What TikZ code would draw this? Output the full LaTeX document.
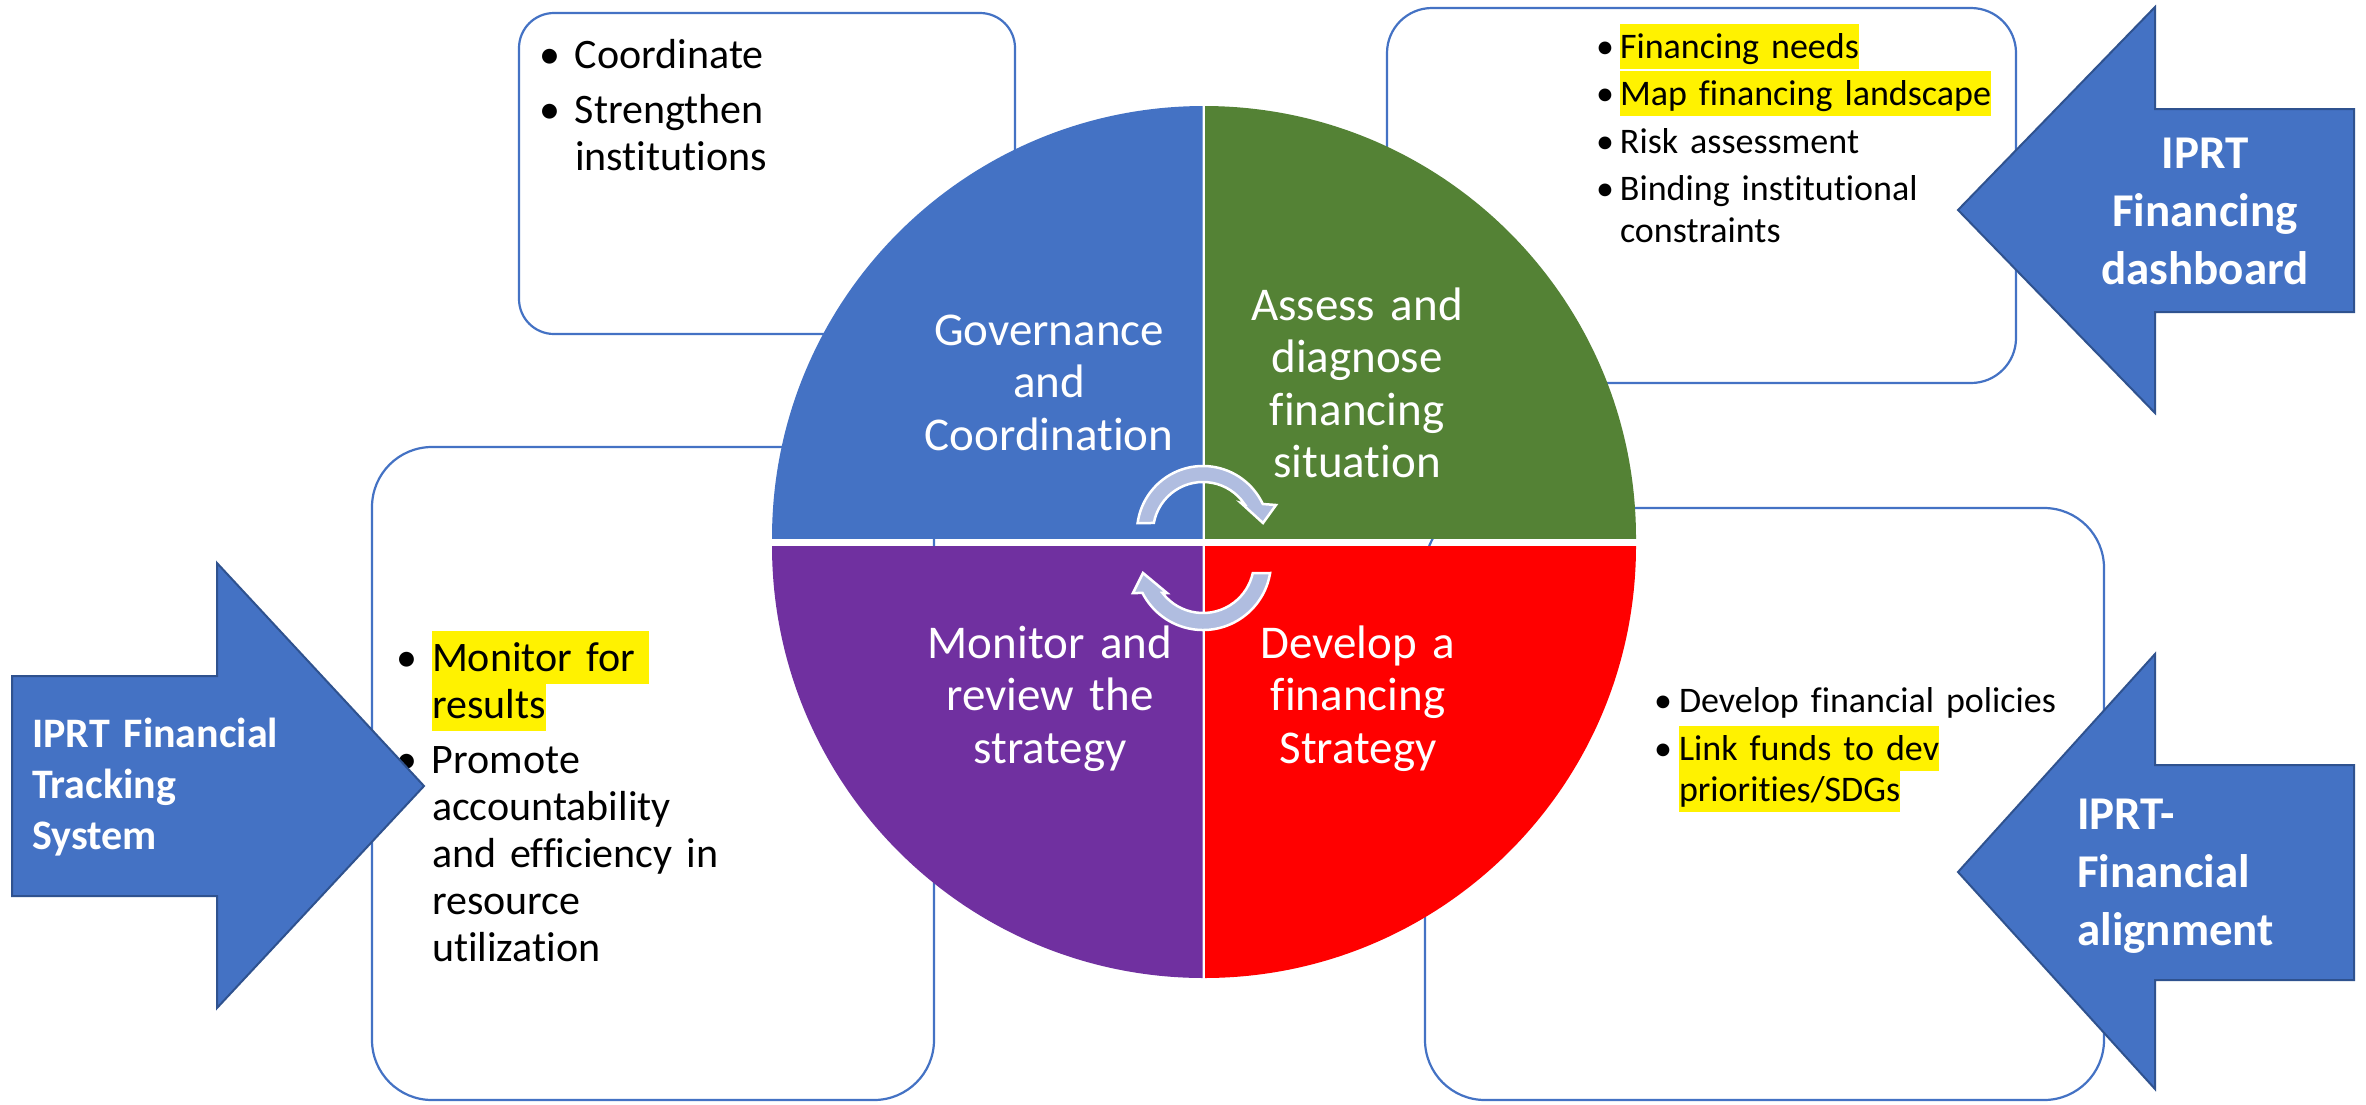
\documentclass[tikz,border=0pt]{standalone}
\usepackage{fontspec}
\setmainfont{Carlito}[Ligatures=NoCommon]
\usepackage{xcolor}
\definecolor{qblue}{HTML}{4472C4}
\definecolor{qgreen}{HTML}{548235}
\definecolor{qpurple}{HTML}{7030A0}
\definecolor{qred}{HTML}{FF0000}
\definecolor{arrowline}{HTML}{2F528F}
\definecolor{cycfill}{HTML}{B0BDE0}
\newcommand\myfs[2]{\fontsize{#1pt}{#2pt}\selectfont\lineskiplimit=-1000pt\relax}
\newcommand\hlt[1]{{\setlength{\fboxsep}{0pt}\colorbox{yellow}{\vrule height 0.95em depth 0.3em width 0pt #1}}}
\newcommand\bul[1]{\leavevmode\llap{\textbullet\hspace{#1pt}}}
\tikzset{
  listbox/.style={draw=qblue, line width=2.2pt, fill=white},
  bigarrow/.style={fill=qblue, draw=arrowline, line width=2pt, line join=miter},
  cyc/.style={fill=cycfill, draw=white, line width=2.5pt},
  txt/.style={anchor=base west, inner sep=0pt, outer sep=0pt, align=left, text width=#1},
  qtxt/.style={anchor=base, inner sep=0pt, align=center, text width=340pt, text=white, font=\myfs{47}{52.5}},
  atxt/.style={inner sep=0pt, text=white},
}
\begin{document}
\begin{tikzpicture}[x=1pt,y=1pt,yscale=-1]
\useasboundingbox (0,0) rectangle (2366,1104);
\fill[white] (0,0) rectangle (2366,1104);

% ---- text boxes
\draw[listbox, rounded corners=35pt] (519,13) rectangle (1015,334);
\draw[listbox, rounded corners=45pt] (1387,8) rectangle (2016,383);
\draw[listbox, rounded corners=60pt] (372,447) rectangle (934,1100);
\draw[listbox, rounded corners=60pt] (1425,508) rectangle (2104,1100);

% ---- box texts
\node[txt=400pt, font=\myfs{42}{47}] (c1) at (575,68) {\bul{15}Coordinate};
\node[txt=400pt, font=\myfs{42}{47}] (c2) at (575,123) {\bul{15}Strengthen\\institutions};

\node[txt=380pt, font=\myfs{36}{42}] (f1) at (1620,58) {\bul{6}\hlt{Financing needs}};
\node[txt=380pt, font=\myfs{36}{42}] (f2) at (1620,105) {\bul{6}\hlt{Map financing landscape}};
\node[txt=380pt, font=\myfs{36}{42}] (f3) at (1620,153) {\bul{6}Risk assessment};
\node[txt=380pt, font=\myfs{36}{42}] (f4) at (1620,200) {\bul{6}Binding institutional\\constraints};

\node[txt=330pt, font=\myfs{42}{47}] (m1) at (432,671) {\bul{15}\hlt{Monitor for }\\\hlt{results}};
\node[txt=330pt, font=\myfs{42}{47}] (m2) at (432,773) {\bul{15}Promote\\accountability\\and efficiency in\\resource\\utilization};

\node[txt=400pt, font=\myfs{36}{41}] (d1) at (1679,712) {\bul{7}Develop financial policies};
\node[txt=400pt, font=\myfs{36}{41}] (d2) at (1679,760) {\bul{7}\hlt{Link funds to dev}\\\hlt{priorities/SDGs}};

% ---- circle quadrants
\begin{scope}
  \clip (760,100) rectangle (1202.5,538);
  \fill[qblue] (1204,538) circle[radius=432];
\end{scope}
\begin{scope}
  \clip (1205,100) rectangle (1645,538);
  \fill[qgreen] (1204,538) circle[radius=432];
\end{scope}
\begin{scope}
  \clip (760,546) rectangle (1202.5,990);
  \fill[qpurple] (1204,546) circle[radius=432];
\end{scope}
\begin{scope}
  \clip (1205,546) rectangle (1645,990);
  \fill[qred] (1204,546) circle[radius=432];
\end{scope}

% ---- quadrant labels
\node[qtxt] (gov) at (1049,345) {Governance\\and\\Coordination};
\node[qtxt] (ass) at (1357,320) {Assess and\\diagnose\\financing\\situation};
\node[qtxt] (mon) at (1050,658) {Monitor and\\review the\\strategy};
\node[qtxt] (dev) at (1358,658) {Develop a\\financing\\Strategy};

% ---- cycle arrows
\filldraw[cyc] ([shift={(1203,532)}]187.8:66) arc[start angle=187.8, end angle=334.9, radius=66]
  -- (1276,505) -- (1263,523) -- (1241,503)
  -- ([shift={(1203,532)}]325.9:50) arc[start angle=325.9, end angle=190.4, radius=50] -- cycle;
\filldraw[cyc] ([shift={(1203,562)}]9.3:68) arc[start angle=9.3, end angle=152.9, radius=68]
  -- (1133,593) -- (1143,573) -- (1167,593)
  -- ([shift={(1203,562)}]142.6:51) arc[start angle=142.6, end angle=12.5, radius=51] -- cycle;

% ---- big block arrows
\filldraw[bigarrow] (12,676) -- (217,676) -- (217,563) -- (424,786) -- (217,1008) -- (217,896) -- (12,896) -- cycle;
\filldraw[bigarrow] (1958,210) -- (2155,7) -- (2155,109) -- (2354,109) -- (2354,312) -- (2155,312) -- (2155,413) -- cycle;
\filldraw[bigarrow] (1958,872) -- (2155,654) -- (2155,765) -- (2354,765) -- (2354,980) -- (2155,980) -- (2155,1089) -- cycle;

% ---- arrow labels
\node[atxt, anchor=base, align=center, text width=260pt, font=\bfseries\myfs{47}{58}] (a1) at (2205,168) {IPRT\\Financing\\dashboard};
\node[atxt, anchor=base west, align=left, text width=260pt, font=\bfseries\myfs{47}{58}] (a2) at (2077,829) {IPRT-\\Financial\\alignment};
\node[atxt, anchor=base west, align=left, text width=300pt, font=\bfseries\myfs{42}{51}] (a3) at (32,747) {IPRT Financial\\Tracking\\System};
\end{tikzpicture}
\end{document}
